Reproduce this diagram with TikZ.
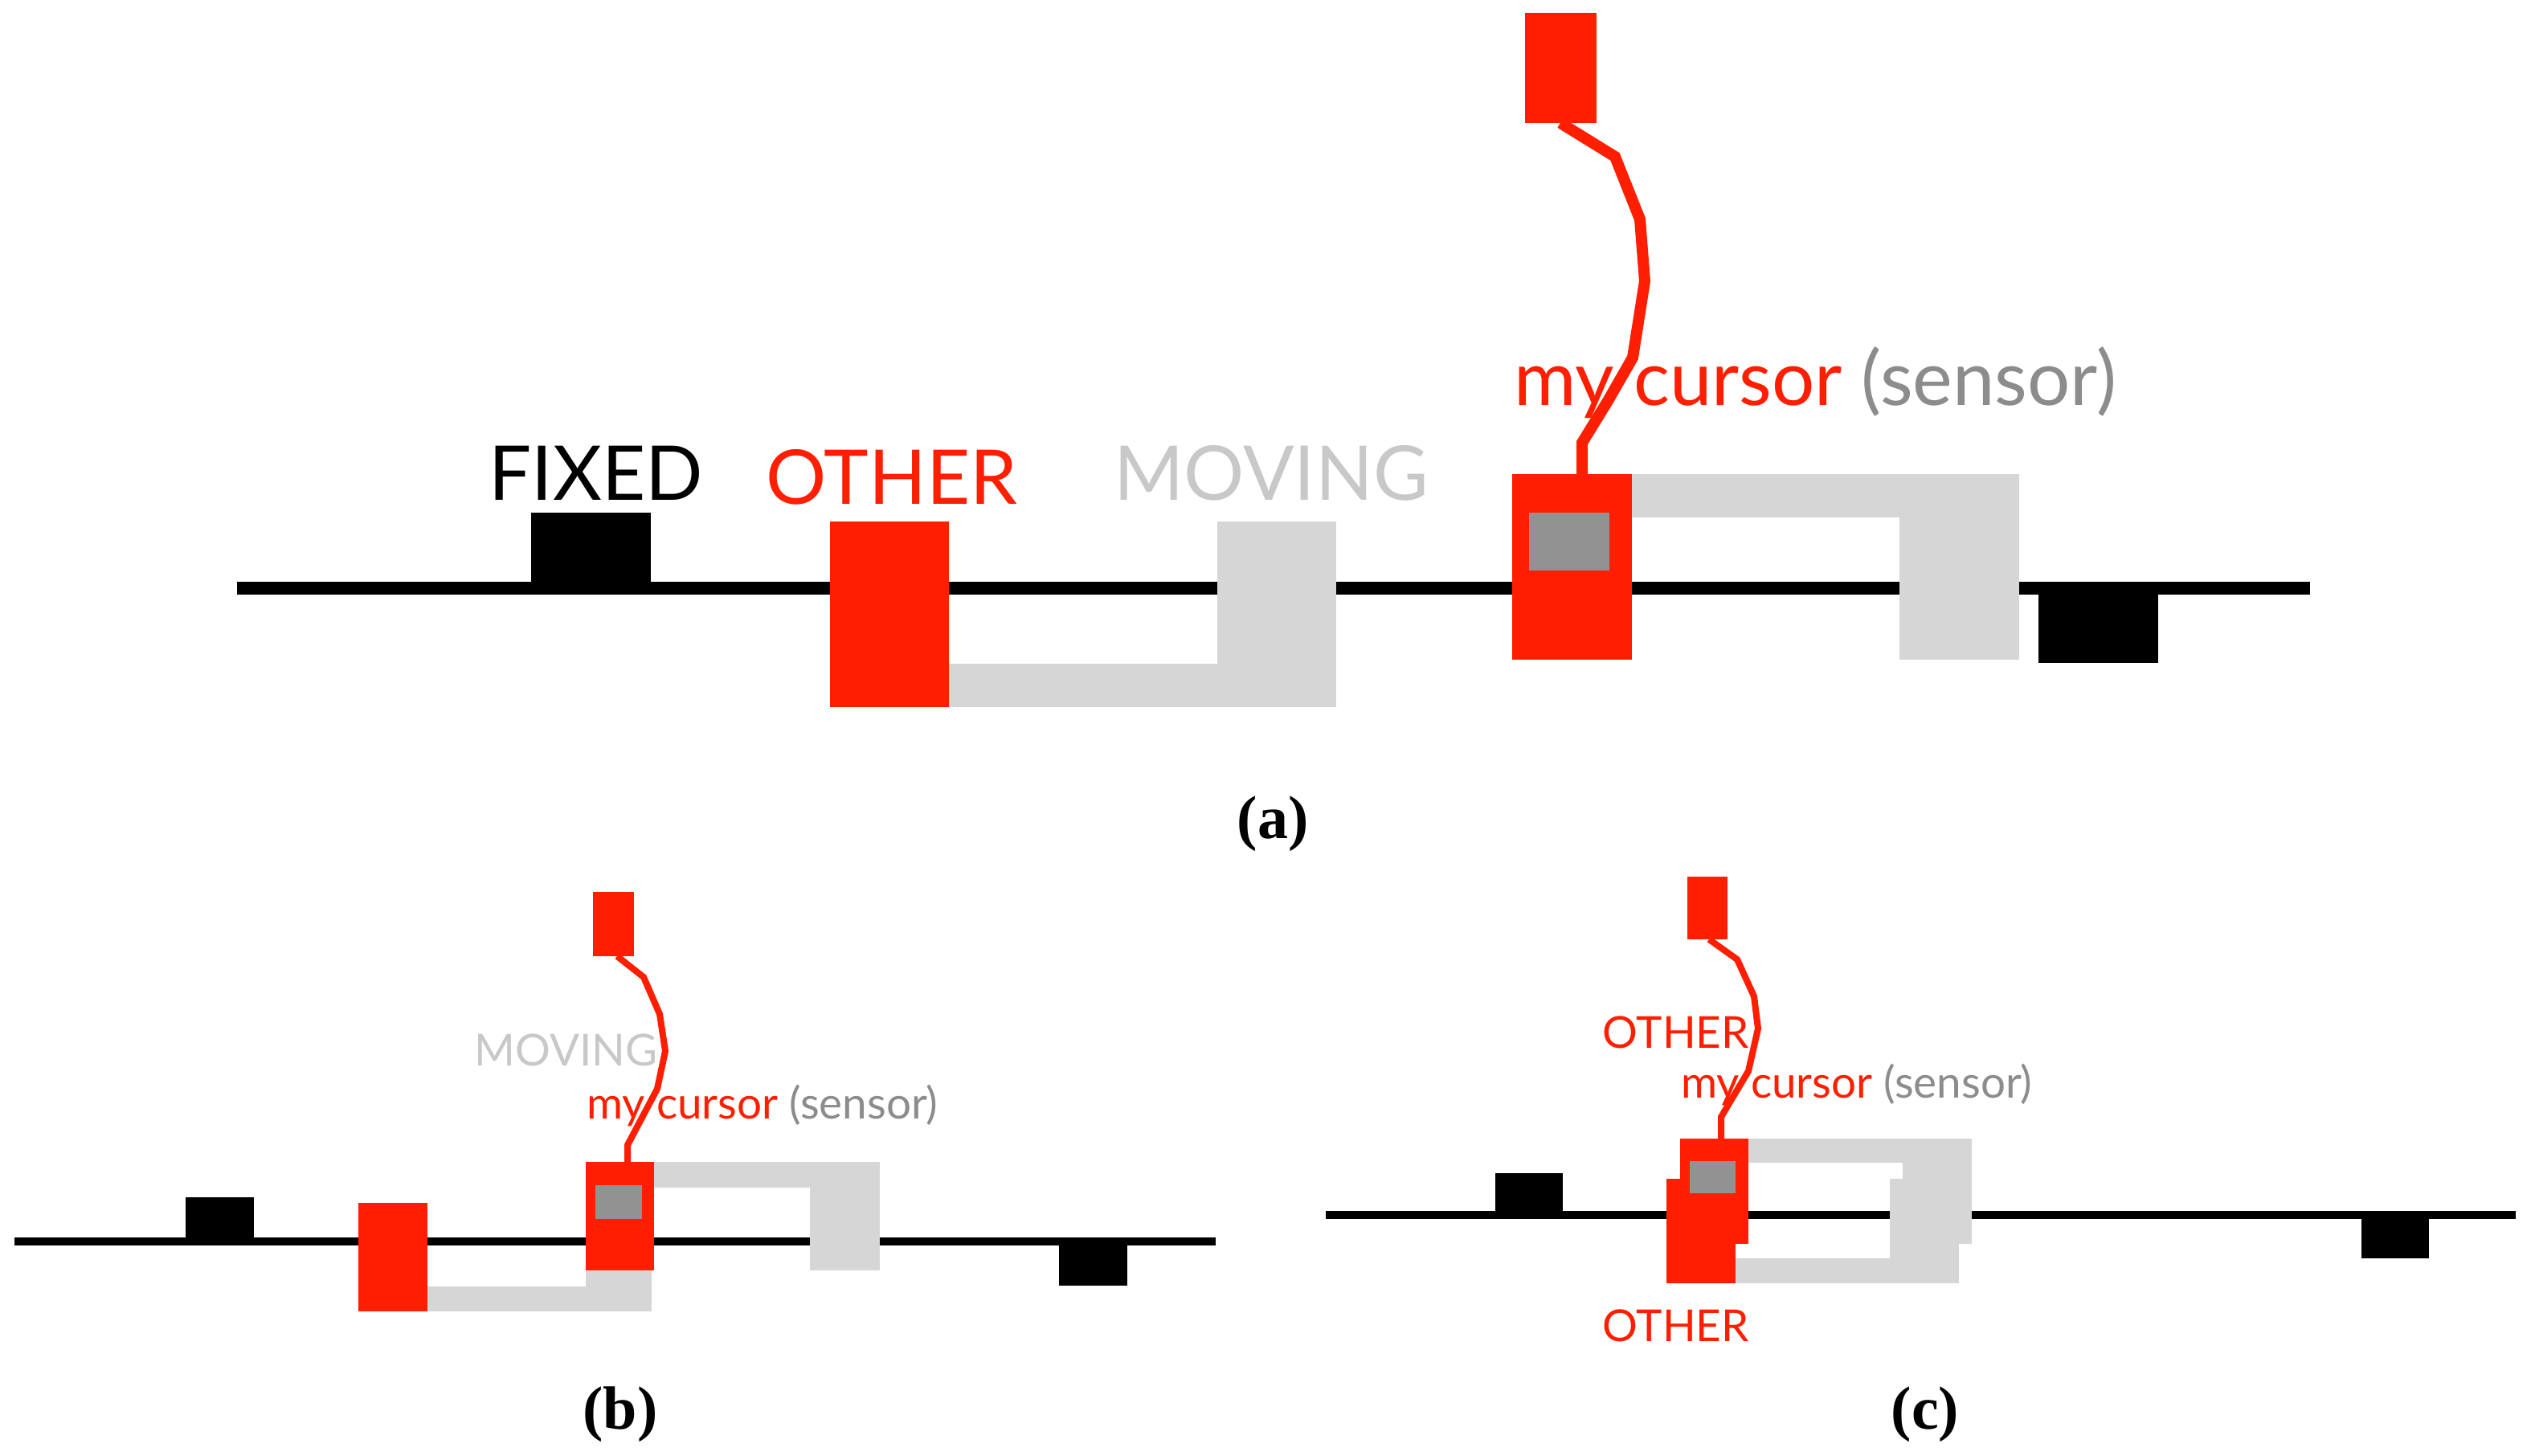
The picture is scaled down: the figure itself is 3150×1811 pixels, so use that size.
\documentclass[tikz,border=0pt]{standalone}
\usepackage{fontspec}
\setmainfont{Liberation Serif}
\newfontfamily\gillfont{Lato}

\definecolor{cursorred}{RGB}{255,30,0}
\definecolor{movegray}{RGB}{214,214,214}
\definecolor{sensorgray}{RGB}{146,146,146}
\definecolor{textgray}{RGB}{140,140,140}
\definecolor{movelabel}{RGB}{200,200,200}

\tikzset{every picture/.style={line width=0.75pt}}
\tikzset{
  big label/.style={anchor=base west, inner sep=0pt, font=\gillfont\fontsize{23.5}{28}\selectfont},
  small label/.style={anchor=base west, inner sep=0pt, font=\gillfont\fontsize{13.7}{17}\selectfont},
  caption/.style={anchor=base, inner sep=0pt, font=\bfseries\fontsize{19}{23}\selectfont},
  rail/.style={line width=4pt},
  thin rail/.style={line width=2.5pt},
  cable/.style={draw=cursorred, line width=3.5pt},
  thin cable/.style={draw=cursorred, line width=2pt},
}

\begin{document}
\begin{tikzpicture}[x=0.25pt,y=0.25pt,yscale=-1,xscale=1]
    \useasboundingbox (0,0) rectangle (3150,1811);
    %%%%%%%%%%%%%%%% (a) %%%%%%%%%%%%%%%%
    %Straight Lines: rail
    \draw [rail]   (295,732) -- (2875,732) ;
    %Shape: fixed blocks
    \fill (661,638) rectangle (810,732) ;
    \fill (2537,732) rectangle (2686,825) ;
    %Shape: moving brackets
    \fill [movegray] (1100,826) rectangle (1663,880) ;
    \fill [movegray] (1515,649) rectangle (1663,880) ;
    \fill [movegray] (1950,590) rectangle (2513,644) ;
    \fill [movegray] (2364,590) rectangle (2513,821) ;
    %Shape: other and cursor
    \fill [cursorred] (1033,649) rectangle (1181,880) ;
    \fill [cursorred] (1882,590) rectangle (2031,821) ;
    \fill [sensorgray] (1903,638) rectangle (2003,710) ;
    %Shape: handle
    \fill [cursorred] (1898,16) rectangle (1987,153) ;
    \coordinate (handleA) at (1942,153) ;
    \coordinate (cursorA) at (1969,590) ;
    % Text Node
    \draw (607,622) node (fixedA) [big label] {FIXED};
    % Text Node
    \draw (952,627) node (otherA) [big label, text=cursorred] {OTHER};
    % Text Node
    \draw (1385,622) node (movingA) [big label, text=movelabel] {MOVING};
    % Text Node
    \draw (1883,504) node (sensorA) [big label] {\textcolor{cursorred}{my cursor} \textcolor{textgray}{(sensor)}};
    %Curve Lines: cable
    \draw [cable] (handleA) -- (2010,195) -- (2041,273) -- (2047,350) -- (2032,445) -- (2001,499) -- (1969,551) -- (cursorA) ;
    % Text Node
    \draw (1584,1043) node (capA) [caption] {(a)};

    %%%%%%%%%%%%%%%% (b) %%%%%%%%%%%%%%%%
    \draw [thin rail]   (18,1545) -- (1513,1545) ;
    \fill (231,1490) rectangle (316,1545) ;
    \fill (1318,1545) rectangle (1403,1600) ;
    \fill [movegray] (500,1601) rectangle (811,1632) ;
    \fill [movegray] (729,1497) rectangle (811,1632) ;
    \fill [movegray] (790,1446) rectangle (1095,1478) ;
    \fill [movegray] (1008,1446) rectangle (1095,1581) ;
    \fill [cursorred] (446,1497) rectangle (532,1632) ;
    \fill [cursorred] (729,1446) rectangle (814,1581) ;
    \fill [sensorgray] (741,1475) rectangle (799,1517) ;
    \fill [cursorred] (738,1110) rectangle (789,1190) ;
    \coordinate (handleB) at (768,1190) ;
    \coordinate (cursorB) at (781,1446) ;
    % Text Node
    \draw (589,1326) node (movingB) [small label, text=movelabel] {MOVING};
    % Text Node
    \draw (729,1392) node (sensorB) [small label] {\textcolor{cursorred}{my cursor} \textcolor{textgray}{(sensor)}};
    \draw [thin cable] (handleB) -- (801,1216) -- (821,1262) -- (828,1308) -- (818,1355) -- (781,1425) -- (cursorB) ;
    % Text Node
    \draw (772,1778) node (capB) [caption] {(b)};

    %%%%%%%%%%%%%%%% (c) %%%%%%%%%%%%%%%%
    \draw [thin rail]   (1650,1512) -- (3131,1512) ;
    \fill (1861,1460) rectangle (1945,1512) ;
    \fill (2939,1512) rectangle (3023,1566) ;
    \fill [movegray] (2120,1566) rectangle (2438,1597) ;
    \fill [movegray] (2352,1467) rectangle (2438,1597) ;
    \fill [movegray] (2150,1417) rectangle (2454,1447) ;
    \fill [movegray] (2368,1417) rectangle (2454,1548) ;
    \fill [cursorred] (2074,1467) rectangle (2160,1597) ;
    \fill [cursorred] (2091,1417) rectangle (2176,1548) ;
    \fill [sensorgray] (2103,1445) rectangle (2160,1485) ;
    \fill [cursorred] (2100,1091) rectangle (2150,1169) ;
    \coordinate (handleC) at (2127,1169) ;
    \coordinate (cursorC) at (2142,1417) ;
    % Text Node
    \draw (1993,1304) node (otherC) [small label, text=cursorred] {OTHER};
    % Text Node
    \draw (2091,1366) node (sensorC) [small label] {\textcolor{cursorred}{my cursor} \textcolor{textgray}{(sensor)}};
    % Text Node
    \draw (1993,1669) node (otherCb) [small label, text=cursorred] {OTHER};
    \draw [thin cable] (handleC) -- (2162,1194) -- (2183,1240) -- (2188,1280) -- (2176,1333) -- (2142,1390) -- (cursorC) ;
    % Text Node
    \draw (2396,1778) node (capC) [caption] {(c)};
\end{tikzpicture}
\end{document}
